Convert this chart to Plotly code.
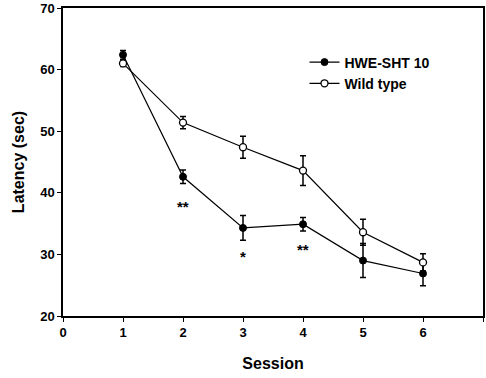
import plotly.graph_objects as go

sessions = [1, 2, 3, 4, 5, 6]
hwe_mean = [62.4, 42.6, 34.3, 34.9, 29.0, 26.9]
hwe_err = [0.7, 1.1, 2.0, 1.1, 2.75, 2.0]
wt_mean = [61.0, 51.4, 47.4, 43.6, 33.6, 28.7]
wt_err = [0.5, 1.0, 1.8, 2.4, 2.1, 1.4]
sig_x = [2, 3, 4]
sig_y = [37.8, 29.6, 30.8]
sig_text = ["**", "*", "**"]
x_ticks = [0, 1, 2, 3, 4, 5, 6, 7]
y_ticks = [20, 30, 40, 50, 60, 70]

FONT = "Liberation Sans, Arial, sans-serif"

fig = go.Figure()
fig.add_trace(go.Scatter(
    x=sessions, y=hwe_mean, name="HWE-SHT 10", mode="lines+markers",
    line=dict(color="black", width=1.2),
    marker=dict(symbol="circle", size=7, color="black", line=dict(color="black", width=1)),
    error_y=dict(type="data", array=hwe_err, visible=True, color="black", thickness=1.5, width=3),
))
fig.add_trace(go.Scatter(
    x=sessions, y=wt_mean, name="Wild type", mode="lines+markers",
    line=dict(color="black", width=1.2),
    marker=dict(symbol="circle", size=7, color="white", line=dict(color="black", width=1.3)),
    error_y=dict(type="data", array=wt_err, visible=True, color="black", thickness=1.5, width=3),
))

for x, y, t in zip(sig_x, sig_y, sig_text):
    fig.add_annotation(x=x, y=y, text=f"<b>{t}</b>", showarrow=False,
                       font=dict(family=FONT, size=15, color="black"))

fig.update_layout(
    width=486, height=378,
    margin=dict(l=63, r=1, t=8, b=62),
    paper_bgcolor="white", plot_bgcolor="white",
    showlegend=True,
    legend=dict(x=0.575, y=0.875, xanchor="left", yanchor="top",
                bgcolor="rgba(0,0,0,0)", tracegroupgap=0, itemwidth=30,
                font=dict(family=FONT, size=14, color="black", weight="bold")),
    xaxis=dict(range=[0, 7], tickvals=x_ticks, showgrid=False, zeroline=False,
               showline=True, linecolor="black", linewidth=1.5, mirror=True,
               ticks="outside", ticklen=4, tickcolor="black",
               tickfont=dict(family=FONT, size=13, color="black", weight="bold"),
               title=dict(text="Session", standoff=18,
                          font=dict(family=FONT, size=16, color="black", weight="bold"))),
    yaxis=dict(range=[20, 70], tickvals=y_ticks, showgrid=False, zeroline=False,
               showline=True, linecolor="black", linewidth=1.5, mirror=True,
               ticks="outside", ticklen=4, tickcolor="black",
               tickfont=dict(family=FONT, size=13, color="black", weight="bold"),
               title=dict(text="Latency (sec)", standoff=12,
                          font=dict(family=FONT, size=16, color="black", weight="bold"))),
)

fig.write_html("out.html")
